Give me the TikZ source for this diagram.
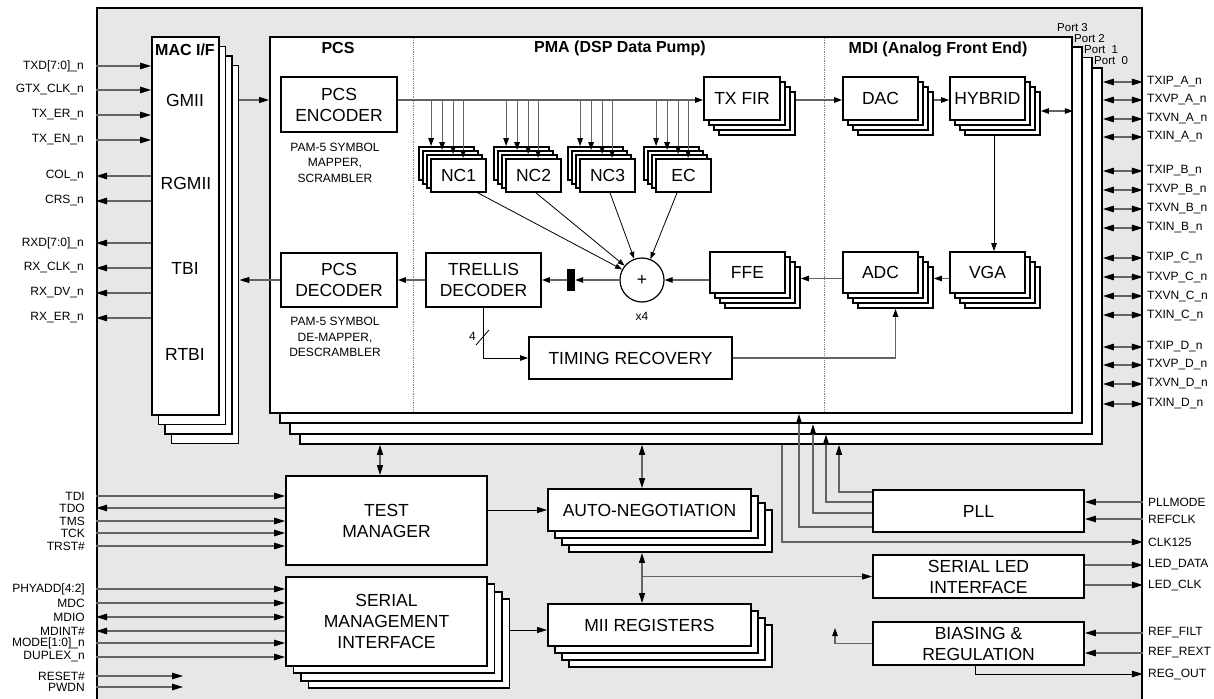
\documentclass[tikz,border=0pt]{standalone}
\usepackage{fontspec}
\setmainfont{Liberation Sans}
\usetikzlibrary{arrows.meta,calc}
\definecolor{bgc}{RGB}{230,231,232}
\definecolor{lnc}{RGB}{100,100,100}
\newcommand\fntBlk{\fontsize{17.5}{21}\selectfont}
\newcommand\fntPin{\fontsize{12}{13}\selectfont}
\newcommand\fntSub{\fontsize{12}{15.5}\selectfont}
\newcommand\fntHead{\fontsize{16}{18}\selectfont\bfseries}
\newcommand\fntPort{\fontsize{11.5}{12}\selectfont}
\tikzset{
  blk/.style={draw=black, fill=white, line width=1.8pt, align=center, inner sep=0pt, font=\fntBlk},
  con/.style={draw=lnc, line width=1.2pt},
  arrBig/.style={con, -{Triangle[length=11pt,width=6.5pt,color=black]}},
  arrBigBoth/.style={con, {Triangle[length=11pt,width=6.5pt,color=black]}-{Triangle[length=11pt,width=6.5pt,color=black]}},
  arrMid/.style={con, -{Triangle[length=10pt,width=6pt,color=black]}},
  arrMidBoth/.style={con, {Triangle[length=10pt,width=6pt,color=black]}-{Triangle[length=10pt,width=6pt,color=black]}},
  arrSm/.style={con, -{Triangle[length=8pt,width=5.5pt,color=black]}},
  arrSmBoth/.style={con, {Triangle[length=8pt,width=5.5pt,color=black]}-{Triangle[length=8pt,width=5.5pt,color=black]}},
  arrThin/.style={draw=black, line width=0.8pt, -{Triangle[length=7pt,width=5pt,color=black]}},
  pinL/.style={anchor=east, font=\fntPin, inner sep=0pt},
  pinR/.style={anchor=west, font=\fntPin, inner sep=0pt},
  portlab/.style={font=\fntPort, anchor=base west, inner sep=0pt},
}
\newcommand\stackbox[8]{%
  \foreach \kk in {3,2,1}{%
    \node[blk, minimum width={(#4)-(#2)}, minimum height={(#5)-(#3)}] (#1b\kk) at ({(#2+#4)/2+\kk*(#6)},{(#3+#5)/2+\kk*(#7)}) {};
  }%
  \node[blk, minimum width={(#4)-(#2)}, minimum height={(#5)-(#3)}] (#1) at ({(#2+#4)/2},{(#3+#5)/2}) {#8};
}
\newcommand\onebox[6]{%
  \node[blk, minimum width={(#4)-(#2)}, minimum height={(#5)-(#3)}] (#1) at ({(#2+#4)/2},{(#3+#5)/2}) {#6};
}
\begin{document}
\begin{tikzpicture}[x=1pt,y=-1pt]
\useasboundingbox (0,0) rectangle (1214,698);
\fill[white] (0,0) rectangle (1214,698);
\node[draw=black, fill=bgc, line width=1.8pt, minimum width=1045, minimum height=700, inner sep=0pt] (chip) at (619.5,358) {};

% MAC I/F stack
\stackbox{mac}{152}{37}{219}{415}{6.5}{9.5}{}
\node[font=\fntHead] (hmac) at (185,50) {MAC I/F};
\node[font=\fntBlk] (gmii) at (185,100) {GMII};
\node[font=\fntBlk] (rgmii) at (186,183) {RGMII};
\node[font=\fntBlk] (tbi) at (185,268) {TBI};
\node[font=\fntBlk] (rtbi) at (185,354) {RTBI};

% main PCS/PMA/MDI stack
\stackbox{main}{270}{37}{1072}{413}{10}{10.3}{}
\node[portlab] (pt3) at (1057,32) {Port 3};
\node[portlab] (pt2) at (1074,43) {Port 2};
\node[portlab] (pt1) at (1084,54) {Port~~1};
\node[portlab] (pt0) at (1094,65) {Port~~0};
\draw[densely dotted, draw=gray, line width=0.8pt] (413,38) -- (413,412);
\draw[densely dotted, draw=gray, line width=0.8pt] (824,38) -- (824,412);
\node[font=\fntHead] (hpcs) at (338,48) {PCS};
\node[font=\fntHead] (hpma) at (620,48) {PMA (DSP Data Pump)};
\node[font=\fntHead] (hmdi) at (938,49) {MDI (Analog Front End)};

% PCS blocks
\onebox{enc}{281}{77}{397}{132}{PCS\\ENCODER}
\node[font=\fntSub, align=center] (sub1) at (335,162.5) {PAM-5 SYMBOL\\MAPPER,\\SCRAMBLER};
\onebox{dec}{281}{253}{397}{307}{PCS\\DECODER}
\node[font=\fntSub, align=center] (sub2) at (335,337) {PAM-5 SYMBOL\\DE-MAPPER,\\DESCRAMBLER};

% PMA blocks
\stackbox{txfir}{704}{77}{780}{120}{5}{5}{TX FIR}
\stackbox{nc1}{431}{159}{486}{192}{-4}{-4}{NC1}
\stackbox{nc2}{506}{159}{561}{192}{-4}{-4}{NC2}
\stackbox{nc3}{580}{159}{635}{192}{-4}{-4}{NC3}
\stackbox{ec}{656}{159}{711}{192}{-4}{-4}{EC}
\stackbox{ffe}{710}{252}{785}{293}{5}{5}{FFE}
\onebox{trel}{426}{253}{541}{307}{TRELLIS\\DECODER}
\onebox{tim}{529}{337}{732}{379}{TIMING RECOVERY}
\node[circle, draw=black, fill=white, line width=1.2pt, minimum size=44pt, inner sep=0pt, font=\fntBlk] (sum) at (642,280) {+};
\node[font=\fntPin] (x4) at (642,316) {x4};
\node[fill=black, minimum width=8pt, minimum height=22pt, inner sep=0pt] (bar) at (571,280) {};

% MDI blocks
\stackbox{dac}{843}{77}{918}{120}{5}{5}{DAC}
\stackbox{hyb}{950}{77}{1025}{120}{5}{5}{HYBRID}
\stackbox{adc}{843}{252}{918}{293}{5}{5}{ADC}
\stackbox{vga}{950}{252}{1025}{293}{5}{5}{VGA}

% bottom blocks
\onebox{tm}{286}{476}{487}{565}{TEST\\MANAGER}
\stackbox{smi}{286}{577}{487}{666}{7.5}{7.3}{SERIAL\\MANAGEMENT\\INTERFACE}
\stackbox{an}{548}{489}{751}{531}{7}{7}{AUTO-NEGOTIATION}
\stackbox{mii}{548}{604}{751}{646}{7}{7}{MII REGISTERS}
\onebox{pll}{873}{490}{1084}{532}{PLL}
\onebox{led}{873}{555}{1084}{598}{SERIAL LED\\INTERFACE}
\onebox{bias}{873}{622}{1084}{665}{BIASING \&\\REGULATION}

% ---- connectors inside ----
\coordinate (bus) at (0,100);
\draw[arrMid] (macb3.east |- bus) -- (main.west |- bus);
\draw[arrMid] (dec.west) -- (dec.west -| macb3.east);
\draw[arrSm] (enc.east |- bus) -- (txfir.west |- bus);
\foreach \nm in {nc1,nc2,nc3,ec}{
  \path ([xshift=13pt]\nm b3.north west) coordinate (t3)
        ([xshift=20pt]\nm b2.north west) coordinate (t2)
        ([xshift=27pt]\nm b1.north west) coordinate (t1)
        ([xshift=33pt]\nm.north west) coordinate (t0);
  \draw[arrSm] (t3 |- bus) -- (t3);
  \draw[arrSm] (t2 |- bus) -- (t2);
  \draw[arrSm] (t1 |- bus) -- (t1);
  \draw[arrSm] (t0 |- bus) -- (t0);
}
\draw[arrThin] ([xshift=-9pt]nc1.south east) -- (sum);
\draw[arrThin] ([xshift=2.5pt]nc2.south) -- (sum);
\draw[arrThin] ([xshift=2.5pt]nc3.south) -- (sum);
\draw[arrThin] ([xshift=-6.5pt]ec.south) -- (sum);
\draw[arrSm] (txfirb3.east |- bus) -- (dac.west |- bus);
\draw[arrSm] (dacb3.east |- bus) -- (hyb.west |- bus);
\coordinate (hy) at (0,111);
\draw[arrSmBoth] (hybb3.east |- hy) -- (main.east |- hy);
\coordinate (hx) at (994,0);
\draw[arrSm, draw=black, line width=0.9pt] (hx |- hybb3.south) -- (hx |- vga.north);
\coordinate (ya) at (0,278.5);
\draw[arrSm] (vga.west |- ya) -- (adcb3.east |- ya);
\draw[arrSm] (adc.west |- ya) -- (ffeb3.east |- ya);
\draw[arrSm] (ffe.west |- sum) -- (sum.east);
\draw[arrSm] (sum.west) -- (bar.east);
\draw[arrSm] (bar.west) -- (bar.west -| trel.east);
\draw[arrSm] (trel.west) -- (dec.east);
\draw[arrSm, draw=black, line width=0.9pt] (trel.south) |- (tim.west);
\draw[line width=0.8pt] (476,345) -- (489,330);
\node[font=\fntPin, anchor=east, inner sep=0pt] (four) at (476,336) {4};
\draw[arrSm] (tim.east) -| (adcb3.south);

% ---- left pins ----
\foreach \yy/\lab in {66/TXD[7:0]\_n, 90/GTX\_CLK\_n, 115/TX\_ER\_n, 140/TX\_EN\_n}{
  \node[pinL] (li\yy) at (84,\yy) {\lab};
  \draw[arrBig] (chip.west |- li\yy) -- (mac.west |- li\yy);
}
\foreach \yy/\lab in {176/COL\_n, 201/CRS\_n, 243/RXD[7:0]\_n, 268/RX\_CLK\_n, 293/RX\_DV\_n, 318/RX\_ER\_n}{
  \node[pinL] (lo\yy) at (84,\yy) {\lab};
  \draw[arrBig] (mac.west |- lo\yy) -- (chip.west |- lo\yy);
}
% ---- right MDI pins ----
\foreach \yy/\lab in {82/TXIP\_A\_n, 100/TXVP\_A\_n, 119/TXVN\_A\_n, 137/TXIN\_A\_n,
  171/TXIP\_B\_n, 190/TXVP\_B\_n, 209/TXVN\_B\_n, 228/TXIN\_B\_n,
  258/TXIP\_C\_n, 277/TXVP\_C\_n, 296/TXVN\_C\_n, 315/TXIN\_C\_n,
  347/TXIP\_D\_n, 365/TXVP\_D\_n, 384/TXVN\_D\_n, 404/TXIN\_D\_n}{
  \node[pinR] (rm\yy) at (1147,\yy) {\lab};
  \draw[arrBigBoth] (mainb3.east |- rm\yy) -- (chip.east |- rm\yy);
}
% ---- bottom-left pins ----
\foreach \yy/\lab in {496/TDI, 521/TMS, 533/TCK, 546/TRST\#}{
  \node[pinL] (bi\yy) at (85,\yy) {\lab};
  \draw[arrBig] (chip.west |- bi\yy) -- (tm.west |- bi\yy);
}
\node[pinL] (btdo) at (85,508) {TDO};
\draw[arrBig] (tm.west |- btdo) -- (chip.west |- btdo);
\foreach \yy/\lab in {589/PHYADD[4:2], 603/MDC, 643/MODE[1:0]\_n, 657/DUPLEX\_n}{
  \node[pinL] (bs\yy) at (85,\yy) {\lab};
  \draw[arrBig] (chip.west |- bs\yy) -- (smi.west |- bs\yy);
}
\node[pinL] (bmdio) at (85,617) {MDIO};
\draw[arrBigBoth] (chip.west |- bmdio) -- (smi.west |- bmdio);
\node[pinL] (bmdint) at (85,631) {MDINT\#};
\draw[arrBig] (smi.west |- bmdint) -- (chip.west |- bmdint);
\node[pinL] (brst) at (85,676) {RESET\#};
\node[pinL] (bpwdn) at (85,687) {PWDN};
\coordinate (rstend) at (183,676);
\coordinate (pwdnend) at (183,687);
\draw[arrBig] (chip.west |- brst) -- (rstend);
\draw[arrBig] (chip.west |- bpwdn) -- (pwdnend);

% ---- bottom-right pins ----
\node[pinR] (rpllm) at (1148,502) {PLLMODE};
\node[pinR] (rref) at (1148,519) {REFCLK};
\node[pinR] (rclk) at (1148,542) {CLK125};
\node[pinR] (rledd) at (1148,565) {LED\_DATA};
\node[pinR] (rledc) at (1148,585) {LED\_CLK};
\node[pinR] (rfilt) at (1148,633) {REF\_FILT};
\node[pinR] (rrext) at (1148,653) {REF\_REXT};
\node[pinR] (rreg) at (1148,674) {REG\_OUT};
\draw[arrBig] (chip.east |- rpllm) -- (pll.east |- rpllm);
\draw[arrBig] (chip.east |- rref) -- (pll.east |- rref);
\draw[arrBig] (led.east |- rledd) -- (chip.east |- rledd);
\draw[arrBig] (led.east |- rledc) -- (chip.east |- rledc);
\draw[arrBig] (chip.east |- rfilt) -- (bias.east |- rfilt);
\draw[arrBig] (chip.east |- rrext) -- (bias.east |- rrext);

% ---- bottom connectors ----
\coordinate (tx) at (380,0);
\draw[arrMidBoth] (tx |- mainb3.south) -- (tx |- tm.north);
\coordinate (ax) at (642,0);
\draw[arrMidBoth] (ax |- mainb3.south) -- (ax |- an.north);
\draw[arrMidBoth] (ax |- anb3.south) -- (ax |- mii.north);
\draw[arrMid] (ax |- led.west) -- (led.west);
\draw[arrMid, draw=black, line width=0.9pt] (tm.east |- an.west) -- (an.west);
\coordinate (ym) at (0,630);
\draw[arrMid, draw=black, line width=0.9pt] (smib3.east |- ym) -- (mii.west |- ym);
\coordinate (q0) at (799,0);
\coordinate (q1) at (813,0);
\coordinate (q2) at (826,0);
\coordinate (q3) at (839,0);
\coordinate (r0) at (0,527);
\coordinate (r1) at (0,513);
\coordinate (r2) at (0,502);
\coordinate (r3) at (0,492);
\draw[arrMid] (pll.west |- r3) -| (q3 |- mainb3.south);
\draw[arrMid] (pll.west |- r2) -| (q2 |- mainb2.south);
\draw[arrMid] (pll.west |- r1) -| (q1 |- mainb1.south);
\draw[arrMid] (pll.west |- r0) -| (q0 |- main.south);
\coordinate (qc) at (782,0);
\draw[arrBig] (qc |- mainb3.south) |- (chip.east |- rclk);
\coordinate (bx) at (975,0);
\draw[arrBig, draw=black, line width=0.9pt] (bx |- bias.south) |- (chip.east |- rreg);
\coordinate (bend) at (835,628);
\draw[arrSm] (bias.west) -| (bend);
\end{tikzpicture}
\end{document}
